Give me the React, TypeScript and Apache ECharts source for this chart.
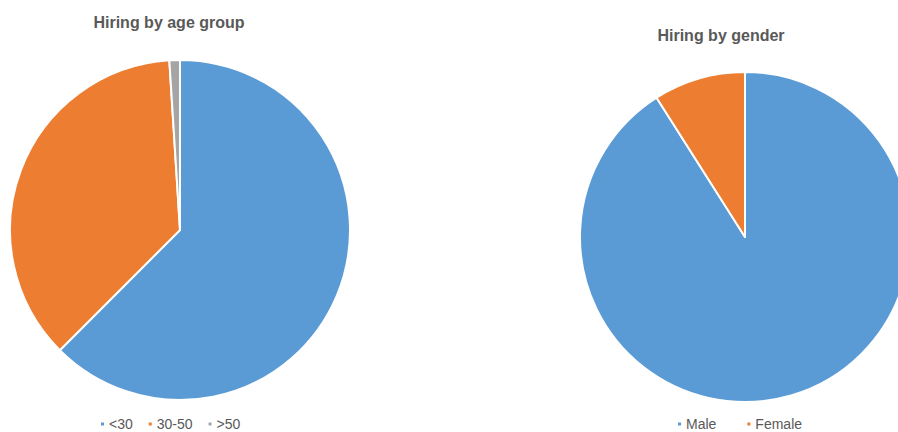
import React, { useEffect, useRef } from "react";
import * as echarts from "echarts";

const ageCategories = ["<30", "30-50", ">50"];
const ageValues = [62.5, 36.5, 1.0];
const genderCategories = ["Male", "Female"];
const genderValues = [91, 9];
const colors = ["#5B9BD5", "#ED7D31", "#A5A5A5"];

export default function App() {
  const ref = useRef<HTMLDivElement>(null);
  useEffect(() => {
    if (!ref.current) return;
    const chart = echarts.init(ref.current, null, { renderer: "svg" });
    const legendText = {
      fontFamily: "Liberation Sans, Arial",
      fontSize: 14,
      color: "#595959",
      padding: [0, 0, 0, -1],
    };
    const titleText = {
      fontFamily: "Liberation Sans, Arial",
      fontSize: 16,
      fontWeight: "bold",
      color: "#595959",
    };
    chart.setOption({
      animation: false,
      backgroundColor: "#ffffff",
      color: colors,
      title: [
        {
          text: "Hiring by age group",
          left: 164,
          top: 9,
          textAlign: "center",
          textStyle: titleText,
        },
        {
          text: "Hiring by gender",
          left: 716,
          top: 22,
          textAlign: "center",
          textStyle: titleText,
        },
      ],
      legend: [
        {
          data: ageCategories,
          left: 97,
          top: 415,
          padding: 2,
          icon: "rect",
          itemWidth: 5,
          itemHeight: 5,
          itemGap: 14,
          textStyle: legendText,
        },
        {
          data: genderCategories,
          left: 674,
          top: 415,
          padding: 2,
          icon: "rect",
          itemWidth: 5,
          itemHeight: 5,
          itemGap: 29,
          textStyle: legendText,
        },
      ],
      series: [
        {
          type: "pie",
          center: [180, 230],
          radius: 170,
          startAngle: 90,
          clockwise: true,
          label: { show: false },
          labelLine: { show: false },
          itemStyle: { borderColor: "#ffffff", borderWidth: 2 },
          emphasis: { disabled: true },
          data: ageCategories.map((name, i) => ({ name, value: ageValues[i] })),
        },
        {
          type: "pie",
          center: [745, 237],
          radius: 165,
          startAngle: 90,
          clockwise: true,
          label: { show: false },
          labelLine: { show: false },
          itemStyle: { borderColor: "#ffffff", borderWidth: 2 },
          emphasis: { disabled: true },
          data: genderCategories.map((name, i) => ({
            name,
            value: genderValues[i],
            itemStyle: { color: colors[i] },
          })),
        },
      ],
    });
    return () => chart.dispose();
  }, []);
  return (
    <div
      ref={ref}
      style={{ position: "absolute", left: 0, top: 0, width: 898, height: 432 }}
    />
  );
}
